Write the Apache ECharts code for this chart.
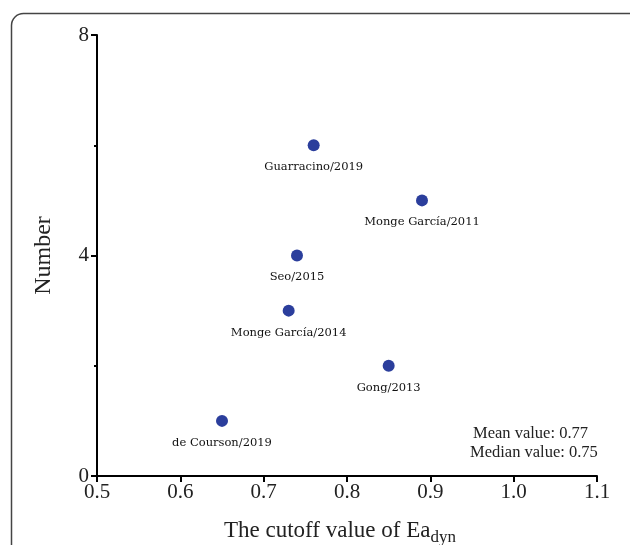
<!DOCTYPE html>
<html>
<head>
<meta charset="utf-8">
<script src="https://cdn.jsdelivr.net/npm/echarts@6/dist/echarts.min.js"></script>
<style>
  html, body { margin: 0; padding: 0; background: #fff; }
  #main { width: 630px; height: 545px; }
</style>
</head>
<body>
<div id="main"></div>
<script>
// studies and their cutoff values
var studies = ['Guarracino/2019', 'Monge García/2011', 'Seo/2015', 'Monge García/2014', 'Gong/2013', 'de Courson/2019'];
var cutoffs = [0.76, 0.89, 0.74, 0.73, 0.85, 0.65];
var counts = [6, 5, 4, 3, 2, 1];
var xTicks = ['0.5', '0.6', '0.7', '0.8', '0.9', '1.0', '1.1'];
var summary = ['Mean value: 0.77', 'Median value: 0.75'];

var serif = '"DejaVu Serif", "Liberation Serif", serif';
var lib = '"Liberation Serif", serif';
var chart = echarts.init(document.getElementById('main'));

var pts = [];
for (var i = 0; i < studies.length; i++) {
  pts.push({ name: studies[i], value: [cutoffs[i], counts[i]] });
}

chart.setOption({
  animation: false,
  grid: { left: 97, right: 33, top: 35, bottom: 69, outerBoundsMode: 'none' },
  xAxis: {
    type: 'value', min: 0.5, max: 1.1, interval: 0.1,
    axisLine: { lineStyle: { color: '#000', width: 2 } },
    axisTick: { show: true, length: 6, lineStyle: { color: '#000', width: 2 } },
    axisLabel: {
      color: '#222', fontFamily: lib, fontSize: 21, margin: 6,
      formatter: function (v) { return xTicks[Math.round((v - 0.5) * 10)]; }
    },
    splitLine: { show: false },
    name: '{a|The cutoff value of Ea}{b|dyn}',
    nameLocation: 'middle', nameGap: 39,
    nameTextStyle: {
      padding: [0, 14, 0, 0],
      rich: {
        a: { fontFamily: lib, fontSize: 23, color: '#222' },
        b: { fontFamily: lib, fontSize: 17, color: '#222', padding: [14, 0, 0, 0] }
      }
    }
  },
  yAxis: {
    type: 'value', min: 0, max: 8, interval: 4,
    axisLine: { show: true, lineStyle: { color: '#000', width: 2 } },
    axisTick: { show: true, length: 6, lineStyle: { color: '#000', width: 2 } },
    minorTick: { show: true, splitNumber: 2, length: 3, lineStyle: { color: '#000', width: 2 } },
    axisLabel: { color: '#222', fontFamily: lib, fontSize: 21, margin: 8 },
    splitLine: { show: false },
    name: 'Number', nameLocation: 'middle', nameGap: 41,
    nameTextStyle: { fontFamily: lib, fontSize: 24, color: '#222' }
  },
  series: [{
    type: 'scatter',
    symbolSize: 12,
    itemStyle: { color: '#2b3e9c', opacity: 1 },
    label: {
      show: true, position: 'bottom', distance: 10,
      formatter: '{b}',
      fontFamily: serif, fontSize: 11.5, color: '#111'
    },
    data: pts
  }],
  graphic: [
    {
      type: 'rect', left: 9, top: 11, silent: true,
      shape: { width: 640, height: 560, r: 12 },
      style: { fill: 'none', stroke: '#444', lineWidth: 1.5 }
    },
    {
      type: 'text', left: 473, top: 425,
      style: { text: summary[0], font: '16.5px "Liberation Serif", serif', fill: '#222' }
    },
    {
      type: 'text', left: 470, top: 444,
      style: { text: summary[1], font: '16.5px "Liberation Serif", serif', fill: '#222' }
    }
  ]
});
</script>
</body>
</html>
